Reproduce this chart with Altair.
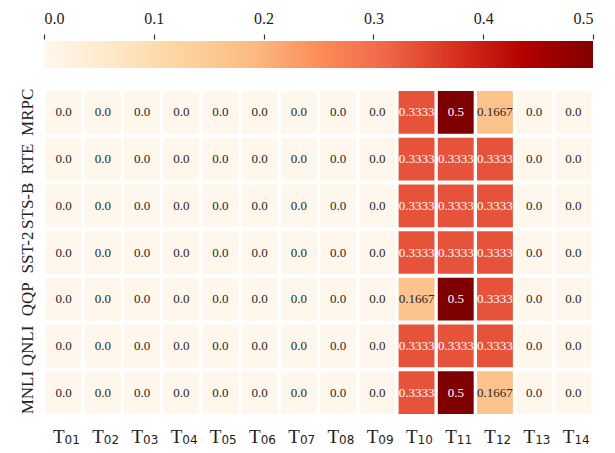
import altair as alt
import numpy as np
import pandas as pd

tasks = ["MRPC", "RTE", "STS-B", "SST-2", "QQP", "QNLI", "MNLI"]
columns = ["T01", "T02", "T03", "T04", "T05", "T06", "T07",
           "T08", "T09", "T10", "T11", "T12", "T13", "T14"]

mrpc  = [0, 0, 0, 0, 0, 0, 0, 0, 0, 0.3333, 0.5, 0.1667, 0, 0]
rte   = [0, 0, 0, 0, 0, 0, 0, 0, 0, 0.3333, 0.3333, 0.3333, 0, 0]
stsb  = [0, 0, 0, 0, 0, 0, 0, 0, 0, 0.3333, 0.3333, 0.3333, 0, 0]
sst2  = [0, 0, 0, 0, 0, 0, 0, 0, 0, 0.3333, 0.3333, 0.3333, 0, 0]
qqp   = [0, 0, 0, 0, 0, 0, 0, 0, 0, 0.1667, 0.5, 0.3333, 0, 0]
qnli  = [0, 0, 0, 0, 0, 0, 0, 0, 0, 0.3333, 0.3333, 0.3333, 0, 0]
mnli  = [0, 0, 0, 0, 0, 0, 0, 0, 0, 0.3333, 0.5, 0.1667, 0, 0]
rows = [mrpc, rte, stsb, sst2, qqp, qnli, mnli]

cbar_ticks = [0.0, 0.1, 0.2, 0.3, 0.4, 0.5]

# OrRd colour map stops
orrd = ["#fff7ec", "#fee8c8", "#fdd49e", "#fdbb84", "#fc8d59",
        "#ef6548", "#d7301f", "#b30000", "#7f0000"]
orrd_domain = [0.5 * i / (len(orrd) - 1) for i in range(len(orrd))]

records = []
for task, row in zip(tasks, rows):
    for col, v in zip(columns, row):
        records.append({"task": task, "col": col, "value": v,
                        "label": "0.0" if v == 0 else f"{v:g}"})
df = pd.DataFrame(records)

FONT = "Liberation Serif"
W = 549
H = 327

color_scale = alt.Scale(domain=orrd_domain, range=orrd, interpolate="rgb")

# colorbar
n = 300
steps = np.linspace(0, 0.5, n + 1)[:-1]
cb = pd.DataFrame({"v": steps, "v2": steps + 0.5 / n * 1.8})

colorbar = alt.Chart(cb).mark_rect(clip=True).encode(
    x=alt.X("v:Q", scale=alt.Scale(domain=[0, 0.5], nice=False, zero=False),
            axis=alt.Axis(orient="top", values=cbar_ticks, format=".1f",
                          domain=False, tickSize=5, tickWidth=1.2, tickColor="#333",
                          offset=2, labelPadding=8, labelFont=FONT, labelFontSize=16,
                          labelColor="#222", grid=False, title=None)),
    x2="v2:Q",
    color=alt.Color("v:Q", scale=color_scale, legend=None),
).properties(width=W, height=27)

xscale = alt.Scale(paddingInner=0.085, paddingOuter=0.0425)
yenc = alt.Y("task:N", sort=tasks,
             scale=alt.Scale(paddingInner=0.086, paddingOuter=0.043),
             axis=alt.Axis(title=None, domain=False, ticks=False, labelAngle=-90,
                           labelAlign="center", labelBaseline="bottom",
                           labelFont=FONT, labelFontSize=17, labelColor="#222",
                           labelPadding=8))

rects = alt.Chart(df).mark_rect().encode(
    x=alt.X("col:N", sort=columns, scale=xscale,
            axis=alt.Axis(orient="bottom", title=None, domain=False, ticks=False,
                          labelAngle=0, labelFont=FONT, labelFontSize=19,
                          labelColor="#222", labelPadding=11, labelAlign="right",
                          labelExpr="substring(datum.label, 0, 1)", labelOffset=1)),
    y=yenc,
    color=alt.Color("value:Q", scale=color_scale, legend=None),
)
texts = alt.Chart(df).mark_text(font=FONT, fontSize=13).encode(
    x=alt.X("col:N", sort=columns, scale=xscale,
            axis=alt.Axis(orient="bottom", title=None, domain=False, ticks=False,
                          labelAngle=0, labelFont="DejaVu Sans", labelFontSize=12,
                          labelColor="#222", labelPadding=18, labelAlign="left",
                          labelExpr="substring(datum.label, 1)", labelOffset=1)),
    y=yenc,
    text="label:N",
    color=alt.condition(alt.datum.value > 0.25, alt.value("white"), alt.value("#262626")),
)
heat = alt.layer(rects, texts).resolve_axis(x="independent").properties(width=W, height=H)

chart = alt.vconcat(colorbar, heat, spacing=21, bounds="flush").configure_view(
    stroke=None
).properties(padding={"left": 9, "top": 2, "right": 5, "bottom": 5})

chart.save("out.html", embed_options={"renderer": "svg", "actions": False})
